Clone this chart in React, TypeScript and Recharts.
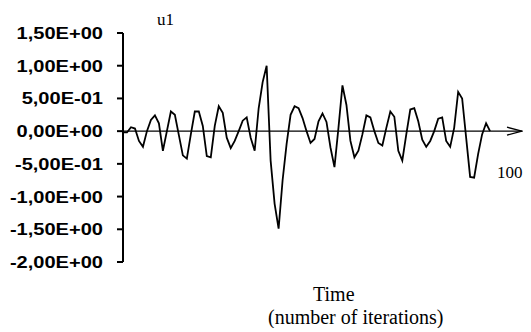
import { Line, LineChart, ReferenceLine, XAxis, YAxis } from "recharts";

// u1 over the iterations
const u1 = [
  -0.02, -0.02, 0.06, 0.04, -0.15, -0.24, 0.0, 0.17, 0.24, 0.12,
  -0.3, 0.0, 0.3, 0.25, -0.06, -0.37, -0.42, -0.05, 0.3, 0.3,
  0.08, -0.38, -0.4, 0.08, 0.38, 0.28, -0.1, -0.26, -0.15, 0.0,
  0.16, 0.21, -0.1, -0.3, 0.35, 0.75, 1.0, -0.45, -1.11, -1.49,
  -0.75, -0.2, 0.25, 0.38, 0.35, 0.2, 0.0, -0.18, -0.12, 0.15,
  0.27, 0.14, -0.25, -0.55, 0.05, 0.7, 0.4, -0.15, -0.4, -0.3,
  -0.05, 0.24, 0.21, 0.0, -0.18, -0.22, 0.05, 0.3, 0.22, -0.3,
  -0.45, -0.05, 0.33, 0.35, 0.15, -0.13, -0.24, -0.15, 0.0, 0.19,
  0.21, -0.15, -0.24, 0.05, 0.6, 0.5, -0.1, -0.7, -0.71, -0.35,
  -0.05, 0.12, 0.0,
];
const yTicks = [-2, -1.5, -1, -0.5, 0, 0.5, 1, 1.5];
const xMax = 100;

const data = u1.map((v, i) => ({ it: i, u1: v }));

// 1.5 -> "1,50E+00"
const sci = (v: number) => {
  const [m, e] = v.toExponential(2).split("e");
  return m.replace(".", ",") + "E" + e[0] + e.slice(1).padStart(2, "0");
};

const serif = "'Liberation Serif', 'Times New Roman', serif";

// wide bold tick labels, like the original
const YTick = (p: any) => {
  const { x, y, payload } = p;
  return (
    <text
      transform={`translate(${x},${y + 6}) scale(1.18,1)`}
      textAnchor="end"
      fill="#000"
      fontSize={17}
      fontWeight="bold"
      fontFamily="'Liberation Sans', Arial, sans-serif"
    >
      {sci(payload.value)}
    </text>
  );
};

const Arrow = (p: any) => {
  const { x1, y1, x2, y2 } = p;
  return (
    <g>
      <line x1={x1} y1={y1} x2={x2} y2={y2} stroke="#000" strokeWidth={1.4} />
      <polyline
        points={`${x2 - 15},${y2 - 4} ${x2},${y2} ${x2 - 15},${y2 + 4}`}
        fill="none"
        stroke="#000"
        strokeWidth={1.4}
      />
    </g>
  );
};

export default function App() {
  return (
    <div style={{ position: "relative", width: 515, height: 320 }}>
      <LineChart width={515} height={320} data={data} margin={{ top: 25, right: 1, bottom: 66, left: 0 }}>
        <XAxis dataKey="it" type="number" domain={[0, xMax]} hide />
        <YAxis
          type="number"
          domain={[-2, 1.5]}
          ticks={yTicks}
          interval={0}
          width={115}
          tickSize={6}
          tickMargin={14}
          axisLine={{ stroke: "#000", strokeWidth: 2 }}
          tickLine={{ stroke: "#000", strokeWidth: 2 }}
          tick={YTick}
        />
        <ReferenceLine y={0} shape={Arrow} />
        <Line
          dataKey="u1"
          type="linear"
          stroke="#000"
          strokeWidth={1.8}
          dot={false}
          isAnimationActive={false}
        />
      </LineChart>
      <div style={{ position: "absolute", left: 149, top: 3, fontFamily: serif, fontSize: 17, lineHeight: 1 }}>u1</div>
      <div
        style={{ position: "absolute", left: 489, top: 156, fontFamily: serif, fontSize: 17, lineHeight: 1, whiteSpace: "nowrap" }}
      >
        {xMax}
      </div>
      <div style={{ position: "absolute", left: 305, top: 276, fontFamily: serif, fontSize: 20, lineHeight: 1, whiteSpace: "nowrap" }}>
        Time
      </div>
      <div style={{ position: "absolute", left: 260, top: 299, fontFamily: serif, fontSize: 20, lineHeight: 1, whiteSpace: "nowrap" }}>
        (number of iterations)
      </div>
    </div>
  );
}
